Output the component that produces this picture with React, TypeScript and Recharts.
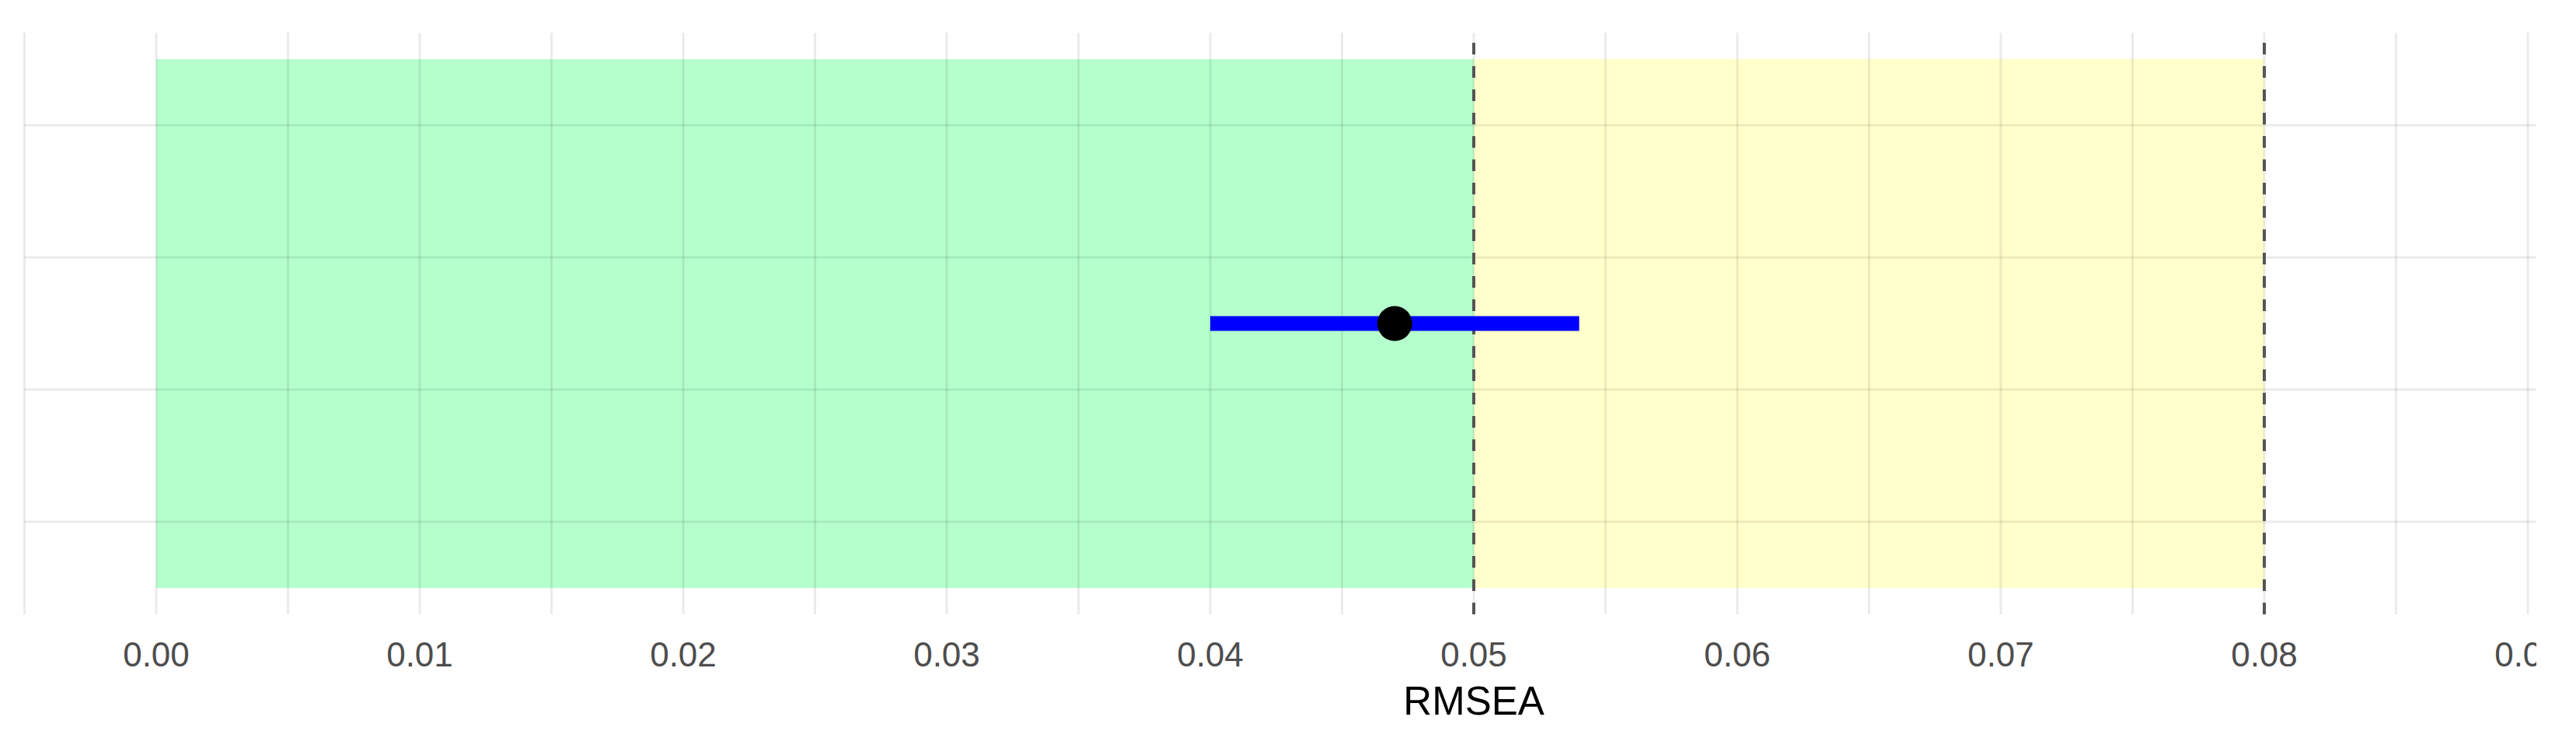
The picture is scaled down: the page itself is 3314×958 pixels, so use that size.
import React from 'react';
import {
    ComposedChart,
    XAxis,
    YAxis,
    ReferenceArea,
    ReferenceLine,
    Line,
    Scatter,
} from 'recharts';

// RMSEA estimate with its confidence interval
const pointData = [{ x: 0.047, y: 0.5 }];
const ciData = [
    { x: 0.04, y: 0.5 },
    { x: 0.054, y: 0.5 },
];

// fit zones: good (< .05) and acceptable (.05 - .08)
const zones = [
    { from: 0.0, to: 0.05, color: '#00ff50', opacity: 0.29 },
    { from: 0.05, to: 0.08, color: '#ffff00', opacity: 0.2 },
];
const cutoffs = [0.05, 0.08];

const xTicks = [0, 0.01, 0.02, 0.03, 0.04, 0.05, 0.06, 0.07, 0.08, 0.09, 0.1];
const xGridBreaks = [
    -0.005, 0, 0.005, 0.01, 0.015, 0.02, 0.025, 0.03, 0.035, 0.04, 0.045, 0.05,
    0.055, 0.06, 0.065, 0.07, 0.075, 0.08, 0.085, 0.09, 0.095, 0.1, 0.105,
];
const yGridBreaks = [0.125, 0.375, 0.625, 0.875];

const FONT = '"Liberation Sans", Arial, Helvetica, sans-serif';
const GRID = 'rgba(0,0,0,0.08)';

export default function App() {
    return (
        <div style={{ width: 3255, height: 950, overflow: 'hidden', background: '#fff' }}>
            <ComposedChart
                width={3756}
                height={940}
                margin={{ top: 34, right: 3.5, bottom: 0, left: 23.5 }}
            >
                <XAxis
                    type="number"
                    dataKey="x"
                    domain={[-0.005, 0.105]}
                    ticks={xTicks}
                    tickFormatter={(v: number) => v.toFixed(2)}
                    axisLine={false}
                    tickLine={false}
                    tickSize={0}
                    tickMargin={36}
                    height={158}
                    interval={0}
                    tick={{ fill: '#4d4d4d', fontSize: 44, fontFamily: FONT }}
                    label={{
                        value: 'RMSEA',
                        position: 'insideBottom',
                        offset: 29,
                        fill: '#000',
                        fontSize: 51,
                        fontFamily: FONT,
                    }}
                />
                <YAxis
                    type="number"
                    dataKey="y"
                    domain={[-0.05, 1.05]}
                    hide
                    width={0}
                />
                {yGridBreaks.map((b) => (
                    <ReferenceLine key={`h-${b}`} y={b} stroke={GRID} strokeWidth={3} />
                ))}
                {xGridBreaks.map((b) => (
                    <ReferenceLine key={`g-${b}`} x={b} stroke={GRID} strokeWidth={3} />
                ))}
                {zones.map((z) => (
                    <ReferenceArea
                        key={`z-${z.from}`}
                        x1={z.from}
                        x2={z.to}
                        y1={0}
                        y2={1}
                        fill={z.color}
                        fillOpacity={z.opacity}
                        stroke="none"
                    />
                ))}
                {cutoffs.map((c) => (
                    <ReferenceLine
                        key={`c-${c}`}
                        x={c}
                        stroke="#555555"
                        strokeWidth={4}
                        strokeDasharray="15 15"
                    />
                ))}
                <Line
                    data={ciData}
                    dataKey="y"
                    stroke="#0000ff"
                    strokeWidth={19}
                    dot={false}
                    activeDot={false}
                    isAnimationActive={false}
                />
                <Scatter
                    data={pointData}
                    dataKey="y"
                    fill="#000"
                    isAnimationActive={false}
                    shape={(p: any) => <circle cx={p.cx} cy={p.cy} r={22.5} fill="#000" />}
                />
            </ComposedChart>
        </div>
    );
}
